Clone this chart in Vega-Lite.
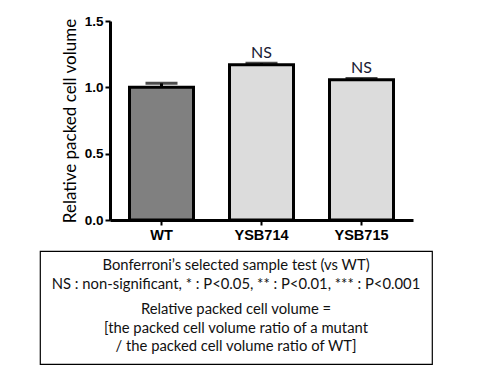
{
  "$schema": "https://vega.github.io/schema/vega-lite/v6.json",
  "padding": {"left": 39, "top": 14, "right": 10, "bottom": 5},
  "background": "white",
  "config": {"font": "Liberation Sans"},
  "datasets": {
    "bars": [
      {"strain": "WT", "value": 1.0, "err": 0.03, "label": "", "kind": "checker"},
      {"strain": "YSB714", "value": 1.17, "err": 0.012, "label": "NS", "kind": "dots"},
      {"strain": "YSB715", "value": 1.057, "err": 0.01, "label": "NS", "kind": "dots"}
    ],
    "notes": [
      {"block": 1, "text": "Bonferroni’s selected sample test (vs WT)\nNS : non-significant, * : P<0.05, ** : P<0.01, *** : P<0.001"},
      {"block": 2, "text": "Relative packed cell volume =\n[the packed cell volume ratio of a mutant\n/ the packed cell volume ratio of WT]"}
    ],
    "empty": []
  },
  "vconcat": [
    {
      "hconcat": [
        {
          "width": 1,
          "height": 1,
          "view": {"stroke": null},
          "data": {"name": "empty"},
          "mark": "point"
        },
        {
          "width": 303,
          "height": 199,
          "view": {"stroke": null},
          "data": {"name": "bars"},
          "encoding": {
            "x": {
              "field": "strain",
              "type": "nominal",
              "sort": null,
              "scale": {"paddingInner": 0.36, "paddingOuter": 0.195},
              "axis": {
                "title": null,
                "labelAngle": 0,
                "labelFont": "Liberation Sans",
                "labelFontWeight": "bold",
                "labelFontSize": 14.5,
                "labelColor": "black",
                "labelPadding": 3,
                "domainColor": "black",
                "domainWidth": 3,
                "tickColor": "black",
                "tickWidth": 2,
                "tickSize": 5
              }
            }
          },
          "layer": [
            {
              "mark": {"type": "bar", "stroke": "black", "strokeWidth": 3},
              "encoding": {
                "y": {
                  "field": "value",
                  "type": "quantitative",
                  "scale": {"domain": [0, 1.5], "nice": false},
                  "axis": {
                    "title": "Relative packed cell volume",
                    "titleFont": "Lato",
                    "titleFontSize": 17,
                    "titleFontWeight": "normal",
                    "titleColor": "black",
                    "titlePadding": 5,
                    "values": [0, 0.5, 1, 1.5],
                    "format": ".1f",
                    "labelFont": "Liberation Sans",
                    "labelFontWeight": "bold",
                    "labelFontSize": 13.5,
                    "labelColor": "black",
                    "labelPadding": 2,
                    "domainColor": "black",
                    "domainWidth": 3,
                    "tickColor": "black",
                    "tickWidth": 2,
                    "tickSize": 5,
                    "grid": false
                  }
                },
                "fill": {
                  "field": "kind",
                  "type": "nominal",
                  "scale": {"domain": ["checker", "dots"], "range": ["#808080", "#dcdcdc"]},
                  "legend": null
                }
              }
            },
            {
              "mark": {"type": "rule", "color": "black", "strokeWidth": 3},
              "encoding": {
                "y": {"field": "value", "type": "quantitative"},
                "y2": {"field": "hi"}
              },
              "transform": [{"calculate": "datum.value + datum.err", "as": "hi"}]
            },
            {
              "mark": {"type": "tick", "color": "black", "thickness": 3, "size": 32, "orient": "horizontal"},
              "transform": [{"calculate": "datum.value + datum.err", "as": "hi"}],
              "encoding": {
                "y": {"field": "hi", "type": "quantitative"}
              }
            },
            {
              "mark": {"type": "text", "font": "Lato", "fontSize": 16, "color": "#1a1a33", "baseline": "bottom", "dy": -2},
              "transform": [{"calculate": "datum.value + datum.err", "as": "hi"}],
              "encoding": {
                "y": {"field": "hi", "type": "quantitative"},
                "text": {"field": "label"}
              }
            }
          ]
        }
      ],
      "spacing": 20
    },
    {
      "width": 392,
      "height": 113,
      "view": {"stroke": "black", "strokeWidth": 1.2, "fill": "white"},
      "data": {"name": "notes"},
      "mark": {"type": "text", "font": "Lato", "fontSize": 14.8, "lineBreak": "\n", "lineHeight": 18.7, "color": "#111", "align": "center", "baseline": "top"},
      "encoding": {
        "y": {"field": "block", "type": "quantitative", "axis": null, "scale": {"domain": [0.841, 3.409], "reverse": true, "nice": false, "zero": false}},
        "text": {"field": "text"}
      }
    }
  ],
  "bounds": "full",
  "spacing": 8
}
